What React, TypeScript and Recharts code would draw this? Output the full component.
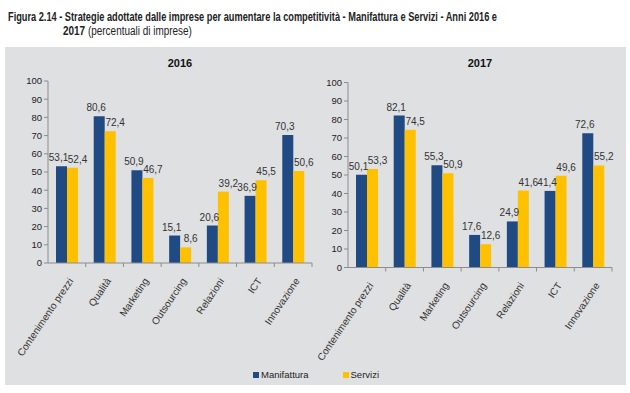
import { useLayoutEffect, useRef, useState } from "react";
import { BarChart, Bar, XAxis, YAxis, LabelList } from "recharts";

const categories = ["Contenimento prezzi", "Qualità", "Marketing", "Outsourcing", "Relazioni", "ICT", "Innovazione"];
const manifattura2016 = [53.1, 80.6, 50.9, 15.1, 20.6, 36.9, 70.3];
const servizi2016 = [52.4, 72.4, 46.7, 8.6, 39.2, 45.5, 50.6];
const manifattura2017 = [50.1, 82.1, 55.3, 17.6, 24.9, 41.4, 72.6];
const servizi2017 = [53.3, 74.5, 50.9, 12.6, 41.6, 49.6, 55.2];
const yTicks = [0, 10, 20, 30, 40, 50, 60, 70, 80, 90, 100];
const seriesNames = ["Manifattura", "Servizi"];

const NAVY = "#1f4a84";
const GOLD = "#ffc000";
const AXIS = "#8c8c8c";
const FONT = "'Liberation Sans', Arial, sans-serif";
const PLOT_W = 264;

const build = (m: number[], s: number[]) =>
  categories.map((c, i) => ({ cat: c, manifattura: m[i], servizi: s[i] }));

const fmt = (v: any) => Number(v).toFixed(1).replace(".", ",");

// squeeze a line of text to a given width (the original uses a narrow face)
function Narrow({ left, top, width, children }: any) {
  const ref = useRef<HTMLDivElement>(null);
  const [k, setK] = useState(1);
  useLayoutEffect(() => {
    if (ref.current) setK(width / ref.current.scrollWidth);
  }, [width]);
  return (
    <div ref={ref} style={{ position: "absolute", left, top, whiteSpace: "nowrap", fontFamily: FONT,
      fontSize: 12.5, lineHeight: "14px", color: "#222", transform: `scaleX(${k})`, transformOrigin: "0 0" }}>
      {children}
    </div>
  );
}

function CatTick({ x, y, payload }: any) {
  const tx = x + 4;
  const ty = y + 8;
  const half = PLOT_W / categories.length / 2;
  return (
    <g>
      <line x1={x + half} x2={x + half} y1={y - 8} y2={y - 4} stroke={AXIS} />
      <text x={tx} y={ty} transform={`rotate(-56, ${tx}, ${ty})`} textAnchor="end" dy="0.35em"
        fontSize={10} fontFamily={FONT} fill="#333">
        {payload.value}
      </text>
    </g>
  );
}

function ValueLabel(nudge: number) {
  return function L({ x, y, width, value }: any) {
    return (
      <text x={x + width / 2 + nudge} y={y - 5} textAnchor="middle" fontSize={10} fontFamily={FONT} fill="#333">
        {fmt(value)}
      </text>
    );
  };
}

function Panel({ data, title, left, marginTop, marginBottom }: any) {
  return (
    <div style={{ position: "absolute", left, top: 47 }}>
      <div style={{ position: "absolute", left: 48, width: PLOT_W, top: 10, textAlign: "center",
        fontFamily: FONT, fontWeight: "bold", fontSize: 11, color: "#111" }}>{title}</div>
      <BarChart width={320} height={338} data={data} barSize={11} barGap={0}
        margin={{ top: marginTop, right: 8, bottom: marginBottom, left: 0 }}>
        <XAxis dataKey="cat" interval={0} height={100} tick={<CatTick />} tickLine={false}
          axisLine={{ stroke: AXIS }} />
        <YAxis width={48} domain={[0, 100]} ticks={yTicks} interval={0} tickSize={4}
          tick={{ fontSize: 9.5, fontFamily: FONT, fill: "#222" }}
          axisLine={{ stroke: AXIS }} tickLine={{ stroke: AXIS }} />
        <Bar dataKey="manifattura" fill={NAVY} isAnimationActive={false}>
          <LabelList dataKey="manifattura" content={ValueLabel(-3)} />
        </Bar>
        <Bar dataKey="servizi" fill={GOLD} isAnimationActive={false}>
          <LabelList dataKey="servizi" content={ValueLabel(5)} />
        </Bar>
      </BarChart>
    </div>
  );
}

export default function App() {
  return (
    <div style={{ position: "absolute", left: 0, top: 0, width: 630, height: 393, background: "#fff", overflow: "hidden" }}>
      <Narrow left={8} top={10} width={489}>
        <b>Figura 2.14 - Strategie adottate dalle imprese per aumentare la competitività - Manifattura e Servizi - Anni 2016 e</b>
      </Narrow>
      <Narrow left={63} top={24} width={129}>
        <b>2017</b> (percentuali di imprese)
      </Narrow>
      <div style={{ position: "absolute", left: 5, top: 47, width: 621, height: 338, background: "#dfe0e2" }} />
      <Panel data={build(manifattura2016, servizi2016)} title="2016" left={0} marginTop={34} marginBottom={22} />
      <Panel data={build(manifattura2017, servizi2017)} title="2017" left={300} marginTop={35.5} marginBottom={17.5} />
      <div style={{ position: "absolute", left: 253, top: 369, fontFamily: FONT, fontSize: 9.5, color: "#222", display: "flex", gap: 34 }}>
        {seriesNames.map((n, i) => (
          <span key={n} style={{ display: "flex", alignItems: "center" }}>
            <span style={{ display: "inline-block", width: 6, height: 6, background: i === 0 ? NAVY : GOLD, marginRight: 2 }} />
            {n}
          </span>
        ))}
      </div>
    </div>
  );
}
